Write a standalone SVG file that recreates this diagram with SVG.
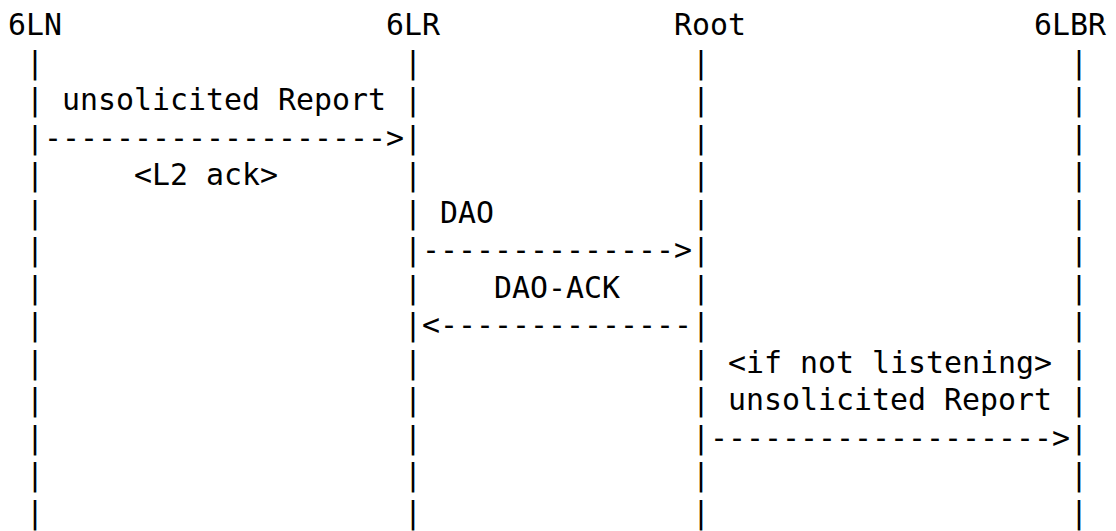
<svg xmlns="http://www.w3.org/2000/svg" width="1116" height="531" viewBox="0 0 1116 531">
<style>
text{font-family:"DejaVu Sans Mono","Liberation Mono",monospace;font-size:29.9px;fill:#000}
</style>
<rect width="1116" height="531" fill="#fff"/>
<g id="node-6LN">
<text x="8" y="35">6LN</text>
<text x="26" y="72.5">|<tspan x="26" dy="37.5">|</tspan><tspan x="26" dy="37.5">|</tspan><tspan x="26" dy="37.5">|</tspan><tspan x="26" dy="37.5">|</tspan><tspan x="26" dy="37.5">|</tspan><tspan x="26" dy="37.5">|</tspan><tspan x="26" dy="37.5">|</tspan><tspan x="26" dy="37.5">|</tspan><tspan x="26" dy="37.5">|</tspan><tspan x="26" dy="37.5">|</tspan><tspan x="26" dy="37.5">|</tspan><tspan x="26" dy="37.5">|</tspan></text>
</g>
<g id="node-6LR">
<text x="386" y="35">6LR</text>
<text x="404" y="72.5">|<tspan x="404" dy="37.5">|</tspan><tspan x="404" dy="37.5">|</tspan><tspan x="404" dy="37.5">|</tspan><tspan x="404" dy="37.5">|</tspan><tspan x="404" dy="37.5">|</tspan><tspan x="404" dy="37.5">|</tspan><tspan x="404" dy="37.5">|</tspan><tspan x="404" dy="37.5">|</tspan><tspan x="404" dy="37.5">|</tspan><tspan x="404" dy="37.5">|</tspan><tspan x="404" dy="37.5">|</tspan><tspan x="404" dy="37.5">|</tspan></text>
</g>
<g id="node-Root">
<text x="674" y="35">Root</text>
<text x="692" y="72.5">|<tspan x="692" dy="37.5">|</tspan><tspan x="692" dy="37.5">|</tspan><tspan x="692" dy="37.5">|</tspan><tspan x="692" dy="37.5">|</tspan><tspan x="692" dy="37.5">|</tspan><tspan x="692" dy="37.5">|</tspan><tspan x="692" dy="37.5">|</tspan><tspan x="692" dy="37.5">|</tspan><tspan x="692" dy="37.5">|</tspan><tspan x="692" dy="37.5">|</tspan><tspan x="692" dy="37.5">|</tspan><tspan x="692" dy="37.5">|</tspan></text>
</g>
<g id="node-6LBR">
<text x="1034" y="35">6LBR</text>
<text x="1070" y="72.5">|<tspan x="1070" dy="37.5">|</tspan><tspan x="1070" dy="37.5">|</tspan><tspan x="1070" dy="37.5">|</tspan><tspan x="1070" dy="37.5">|</tspan><tspan x="1070" dy="37.5">|</tspan><tspan x="1070" dy="37.5">|</tspan><tspan x="1070" dy="37.5">|</tspan><tspan x="1070" dy="37.5">|</tspan><tspan x="1070" dy="37.5">|</tspan><tspan x="1070" dy="37.5">|</tspan><tspan x="1070" dy="37.5">|</tspan><tspan x="1070" dy="37.5">|</tspan></text>
</g>
<g id="connectors">
<text x="62" y="110">unsolicited Report</text>
<text x="44" y="147.5">-------------------&gt;</text>
<text x="134" y="185">&lt;L2 ack&gt;</text>
<text x="440" y="222.5">DAO</text>
<text x="422" y="260">--------------&gt;</text>
<text x="494" y="297.5">DAO-ACK</text>
<text x="422" y="335">&lt;--------------</text>
<text x="728" y="372.5">&lt;if not listening&gt;</text>
<text x="728" y="410">unsolicited Report</text>
<text x="710" y="447.5">-------------------&gt;</text>
</g>
</svg>
